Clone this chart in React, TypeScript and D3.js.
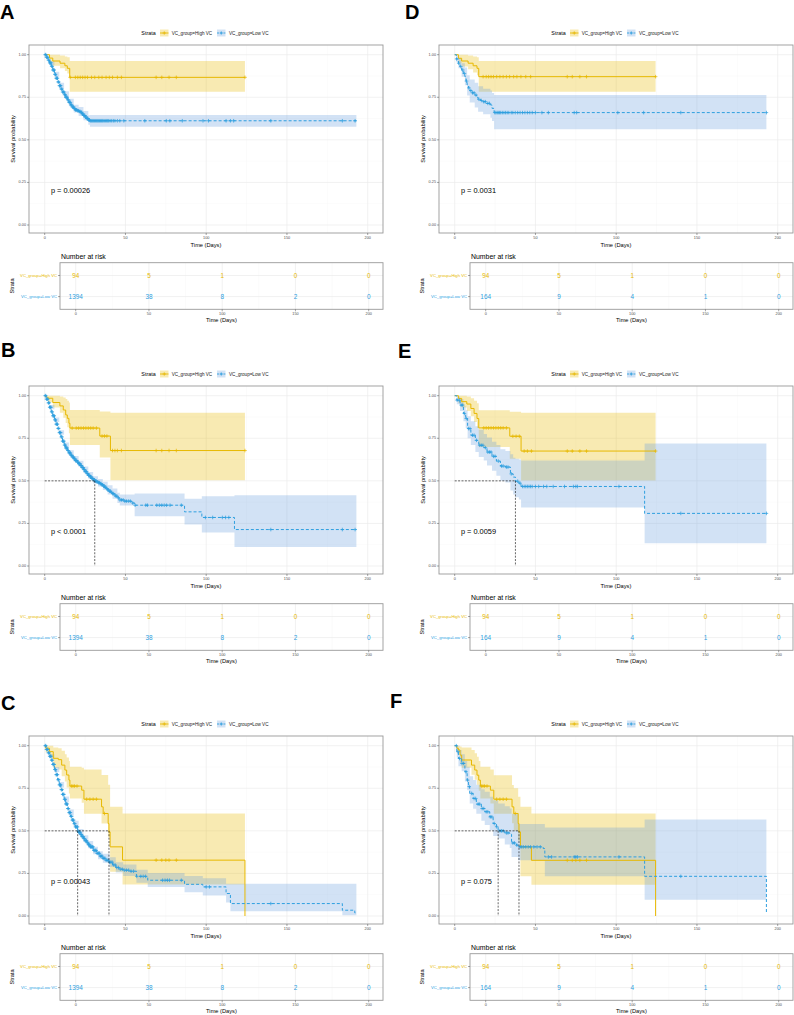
import React from "react";
import * as d3 from "d3";

type Step = [number, number];
type Band = [number, number, number];

const FONT = "'Liberation Sans', Arial, Helvetica, sans-serif";
const HIGH_COL = "#E7B800";
const LOW_COL = "#2E9FDF";
const HIGH_FILL = "#E7B800";
const LOW_FILL = "#6A9FDD";

const strata = ["VC_group=High VC", "VC_group=Low VC"];
const timeBreaks = [0, 50, 100, 150, 200];
const timeMinor = [25, 75, 125, 175];
const survBreaks = [0, 0.25, 0.5, 0.75, 1];
const survMinor = [0.125, 0.375, 0.625, 0.875];

// number at risk, same time breaks as the axis
const riskHigh = [94, 5, 1, 0, 0];
const riskLowLeft = [1394, 38, 8, 2, 0];
const riskLowRight = [164, 9, 4, 1, 0];

const pValues = ["p = 0.00026", "p < 0.0001", "p = 0.00043", "p = 0.0031", "p = 0.0059", "p = 0.075"];

// ---- A ----
const aHigh: Step[] = [[0, 1], [3, 0.98], [5, 0.963], [9.5, 0.95], [12.5, 0.935], [14, 0.92], [15.5, 0.867], [124, 0.867]];
const aHighBand: Band[] = [[0, 1, 1], [3, 0.955, 1], [5, 0.935, 1], [9.5, 0.92, 0.995], [12.5, 0.905, 0.99], [14, 0.89, 0.985], [15.5, 0.783, 0.963], [124, 0.783, 0.963]];
const aHighCensor = [15.8, 19, 20.5, 22, 23.5, 25, 26.5, 29, 31, 33.5, 35.5, 38, 40, 42, 45, 47.5, 69, 72.5, 77, 81.5, 124];
const aLow: Step[] = [[0, 1], [1, 0.985], [2, 0.968], [3, 0.952], [4, 0.932], [5, 0.91], [6, 0.885], [7, 0.862], [8, 0.84], [9, 0.818], [10, 0.798], [11, 0.781], [12, 0.765], [13, 0.75], [14, 0.735], [15, 0.72], [16, 0.705], [17, 0.693], [18, 0.683], [19, 0.676], [20, 0.671], [21, 0.667], [22, 0.662], [23, 0.652], [24, 0.643], [25, 0.634], [26, 0.625], [27, 0.616], [28, 0.612], [193, 0.612]];
const aLowBand: Band[] = [[0, 1, 1], [3, 0.94, 0.962], [6, 0.87, 0.9], [9, 0.8, 0.836], [12, 0.745, 0.785], [15, 0.698, 0.742], [18, 0.66, 0.706], [21, 0.64, 0.693], [24, 0.615, 0.67], [27, 0.588, 0.645], [28, 0.577, 0.646], [193, 0.577, 0.646]];
const aLowCensor = [0.3, 0.7, 1.1, 1.5, 1.9, 2.3, 2.7, 3.1, 3.5, 3.9, 4.3, 4.7, 5.1, 5.5, 5.9, 6.3, 6.7, 7.1, 7.5, 7.9, 8.3, 8.7, 9.1, 9.5, 9.9, 10.3, 10.7, 11.1, 11.5, 11.9, 12.3, 12.7, 13.1, 13.5, 13.9, 14.3, 14.7, 15.1, 15.5, 15.9, 16.3, 16.7, 17.1, 17.5, 17.9, 18.3, 18.7, 19.1, 19.5, 19.9, 20.4, 20.9, 21.4, 21.9, 22.4, 22.9, 23.3, 23.7, 24.1, 24.5, 24.9, 25.3, 25.7, 26.1, 26.5, 26.9, 27.3, 27.7, 28.2, 28.8, 29.4, 30, 30.6, 31.2, 31.8, 32.4, 33, 33.6, 34.2, 34.8, 35.4, 36, 36.7, 37.4, 38.1, 38.8, 39.6, 40.5, 41.5, 42.5, 43.5, 45, 46.5, 49, 62, 75.3, 77.5, 85.2, 98, 101.4, 112.3, 115, 117, 140, 184.3, 192.2];

// ---- B ----
const bHigh: Step[] = [[0, 1], [0.6, 0.992], [2, 0.985], [5, 0.96], [9.4, 0.94], [11.5, 0.916], [13, 0.887], [14, 0.867], [15, 0.838], [15.6, 0.81], [34.1, 0.763], [40.7, 0.678], [124, 0.678]];
const bHighBand: Band[] = [[0, 1, 1], [2, 0.96, 1], [5, 0.93, 1], [9.4, 0.9, 0.995], [11.5, 0.87, 0.99], [13, 0.84, 0.98], [14, 0.815, 0.97], [15, 0.78, 0.96], [15.6, 0.71, 0.916], [34.1, 0.637, 0.907], [40.7, 0.504, 0.9], [124, 0.504, 0.9]];
const bHighCensor = [17, 19.5, 21, 22.5, 24, 25.5, 27, 28.5, 30, 32, 35.5, 37, 38.5, 42, 43.5, 45, 47.5, 69, 72.5, 77, 81.5, 124];
const bLow: Step[] = [[0, 1], [1, 0.98], [2, 0.958], [3, 0.932], [4, 0.905], [5, 0.882], [6, 0.858], [7, 0.833], [8, 0.808], [9, 0.783], [10, 0.758], [11, 0.733], [12, 0.71], [13, 0.693], [14, 0.678], [15, 0.664], [16, 0.651], [17, 0.64], [18, 0.629], [19, 0.619], [20, 0.61], [21, 0.6], [22, 0.59], [23, 0.578], [24, 0.566], [25, 0.554], [26, 0.542], [27, 0.532], [28, 0.523], [29, 0.514], [30, 0.506], [31, 0.499], [32, 0.494], [33, 0.489], [34, 0.484], [35, 0.477], [36, 0.47], [37, 0.462], [38, 0.455], [39, 0.447], [40, 0.439], [41, 0.432], [42, 0.425], [43, 0.418], [44, 0.41], [45, 0.4], [46.5, 0.388], [49.5, 0.381], [53.7, 0.37], [55.7, 0.357], [86.6, 0.318], [97.3, 0.285], [117.5, 0.214], [193, 0.214]];
const bLowBand: Band[] = [[0, 1, 1], [3, 0.92, 0.945], [6, 0.845, 0.872], [9, 0.77, 0.797], [12, 0.696, 0.725], [15, 0.648, 0.68], [18, 0.612, 0.646], [21, 0.582, 0.618], [24, 0.547, 0.585], [27, 0.512, 0.552], [30, 0.485, 0.527], [33, 0.467, 0.511], [36, 0.446, 0.494], [39, 0.42, 0.474], [42, 0.395, 0.455], [45, 0.37, 0.43], [46.5, 0.355, 0.42], [55.7, 0.292, 0.426], [86.6, 0.243, 0.395], [97.3, 0.196, 0.41], [117.5, 0.112, 0.416], [193, 0.112, 0.416]];
const bLowCensor = [0.3, 0.7, 1.1, 1.5, 1.9, 2.3, 2.7, 3.1, 3.5, 3.9, 4.3, 4.7, 5.1, 5.5, 5.9, 6.3, 6.7, 7.1, 7.5, 7.9, 8.3, 8.7, 9.1, 9.5, 9.9, 10.3, 10.7, 11.1, 11.5, 11.9, 12.3, 12.7, 13.1, 13.5, 13.9, 14.3, 14.7, 15.1, 15.5, 15.9, 16.3, 16.7, 17.1, 17.5, 17.9, 18.3, 18.7, 19.1, 19.5, 19.9, 20.3, 20.7, 21.1, 21.5, 21.9, 22.3, 22.7, 23.1, 23.5, 23.9, 24.3, 24.7, 25.1, 25.5, 25.9, 26.3, 26.7, 27.1, 27.5, 27.9, 28.3, 28.7, 29.1, 29.5, 29.9, 30.4, 30.9, 31.4, 31.9, 32.4, 32.9, 33.4, 33.9, 34.4, 34.9, 35.4, 35.9, 36.4, 36.9, 37.4, 37.9, 38.4, 39, 39.6, 40.2, 40.8, 41.4, 42, 42.7, 43.4, 44.1, 44.8, 45.6, 46.6, 47.6, 48.6, 49.6, 50.6, 51.8, 53, 54.5, 56, 62.6, 63.7, 69.4, 71, 72.5, 74, 75.5, 77.6, 84.6, 99.5, 104, 110, 112, 114, 140, 184.3, 192.2];

// ---- C ----
const cHigh: Step[] = [[0, 1], [0.6, 0.985], [3, 0.965], [5.3, 0.926], [8.4, 0.918], [10.5, 0.886], [12.5, 0.857], [13.6, 0.828], [15, 0.798], [15.6, 0.763], [22.9, 0.739], [24.3, 0.686], [35.2, 0.641], [36.2, 0.602], [39.3, 0.543], [39.8, 0.494], [40.5, 0.406], [48.2, 0.328], [124, 0]];
const cHighBand: Band[] = [[0, 1, 1], [0.6, 0.96, 1], [3, 0.93, 1], [5.3, 0.87, 0.99], [8.4, 0.86, 0.985], [10.5, 0.82, 0.97], [12.5, 0.79, 0.95], [13.6, 0.755, 0.93], [15, 0.72, 0.91], [15.6, 0.69, 0.876], [22.9, 0.665, 0.87], [24.3, 0.6, 0.86], [35.2, 0.543, 0.828], [39.3, 0.465, 0.77], [40.5, 0.26, 0.641], [48.2, 0.185, 0.602], [124, 0.185, 0.602]];
const cHighCensor = [16.5, 17.5, 18.5, 20, 26, 28, 30, 32, 37, 69, 72.5, 75, 77, 81.5];
const cLow: Step[] = [[0, 1], [1, 0.978], [2, 0.958], [3, 0.938], [4, 0.915], [5, 0.89], [6, 0.86], [7, 0.83], [8, 0.8], [9, 0.77], [10, 0.742], [11, 0.714], [12, 0.685], [13, 0.658], [14, 0.631], [15, 0.607], [16, 0.585], [17, 0.563], [18, 0.542], [19, 0.523], [20.4, 0.499], [21, 0.492], [22, 0.479], [23, 0.466], [24, 0.454], [25, 0.442], [26, 0.43], [27, 0.418], [28, 0.406], [30, 0.385], [32, 0.368], [34, 0.352], [36, 0.339], [38, 0.327], [40, 0.316], [42, 0.3], [44, 0.285], [46, 0.275], [48.6, 0.269], [52.7, 0.263], [56.8, 0.233], [62.9, 0.226], [63.8, 0.21], [86.6, 0.186], [97.9, 0.171], [112.3, 0.132], [115, 0.073], [184.3, 0.034], [192, 0.018], [193, 0.018]];
const cLowBand: Band[] = [[0, 1, 1], [3, 0.925, 0.95], [6, 0.845, 0.875], [9, 0.755, 0.787], [12, 0.668, 0.702], [15, 0.59, 0.625], [18, 0.524, 0.56], [21, 0.473, 0.511], [24, 0.434, 0.474], [27, 0.398, 0.44], [30, 0.363, 0.407], [33, 0.333, 0.38], [36, 0.313, 0.365], [40, 0.288, 0.345], [44, 0.255, 0.315], [48.6, 0.235, 0.303], [56.8, 0.195, 0.272], [63.8, 0.17, 0.252], [86.6, 0.14, 0.235], [97.9, 0.12, 0.222], [112.3, 0.08, 0.19], [115, 0.028, 0.19], [184.3, 0.005, 0.19], [193, 0.005, 0.19]];
const cLowCensor = [0.3, 0.7, 1.1, 1.5, 1.9, 2.3, 2.7, 3.1, 3.5, 3.9, 4.3, 4.7, 5.1, 5.5, 5.9, 6.3, 6.7, 7.1, 7.5, 7.9, 8.3, 8.7, 9.1, 9.5, 9.9, 10.3, 10.7, 11.1, 11.5, 11.9, 12.3, 12.7, 13.1, 13.5, 13.9, 14.3, 14.7, 15.1, 15.5, 15.9, 16.3, 16.7, 17.1, 17.5, 17.9, 18.3, 18.7, 19.1, 19.5, 19.9, 20.3, 20.7, 21.1, 21.5, 21.9, 22.3, 22.7, 23.1, 23.5, 23.9, 24.3, 24.7, 25.1, 25.5, 25.9, 26.3, 26.7, 27.1, 27.5, 27.9, 28.3, 28.7, 29.1, 29.5, 29.9, 30.4, 30.9, 31.4, 31.9, 32.4, 32.9, 33.4, 33.9, 34.4, 34.9, 35.5, 36.1, 36.7, 37.3, 38, 38.7, 39.4, 40.2, 41, 41.8, 42.7, 43.6, 44.6, 45.6, 46.8, 48, 49.3, 50.6, 52, 53.5, 55, 57, 59.5, 61, 62.5, 73, 74.5, 76, 77.3, 84.6, 100, 102, 140];

// ---- D ----
const dHigh: Step[] = [[0, 1], [2.3, 0.979], [4.3, 0.963], [8.3, 0.95], [11.4, 0.935], [13.8, 0.92], [14.9, 0.871], [124.4, 0.871]];
const dHighBand: Band[] = [[0, 1, 1], [2.3, 0.95, 1], [4.3, 0.93, 1], [8.3, 0.915, 0.995], [11.4, 0.895, 0.99], [13.8, 0.88, 0.985], [14.9, 0.783, 0.963], [124.4, 0.783, 0.963]];
const dHighCensor = [17.6, 19.5, 21, 22.5, 24, 26, 28, 30, 32, 34, 36.5, 38.5, 41, 44, 47, 69.7, 72.8, 77.5, 81.6, 124.4];
const dLow: Step[] = [[0, 1], [1, 0.975], [2.3, 0.95], [3.3, 0.93], [4.3, 0.91], [5.3, 0.89], [6.3, 0.871], [7, 0.845], [7.7, 0.822], [8.5, 0.805], [9.3, 0.789], [10.8, 0.776], [12.4, 0.763], [13.5, 0.75], [14.5, 0.738], [16, 0.731], [17.6, 0.724], [19.6, 0.714], [22.1, 0.705], [23.1, 0.685], [24.4, 0.66], [193, 0.66]];
const dLowBand: Band[] = [[0, 1, 1], [1, 0.955, 0.995], [2.3, 0.92, 0.98], [4.3, 0.87, 0.95], [6.3, 0.82, 0.925], [7.7, 0.76, 0.88], [9.3, 0.72, 0.855], [12.4, 0.69, 0.835], [14.5, 0.665, 0.815], [17.6, 0.65, 0.8], [22.1, 0.63, 0.79], [23.1, 0.61, 0.775], [24.4, 0.562, 0.763], [193, 0.562, 0.763]];
const dLowCensor = [1.2, 2.5, 3.8, 5, 6, 7.3, 8.8, 10, 11, 12, 13.2, 15, 16.5, 18, 19, 20.5, 21.5, 24.8, 25.5, 26.3, 27, 27.8, 28.5, 29.5, 30.5, 31.5, 32.5, 33.5, 35, 36, 37.5, 39, 40.5, 42, 43.5, 45, 46.5, 48, 50, 54, 58, 74, 75.5, 101, 117, 140, 193];

// ---- E ----
const eHigh: Step[] = [[0, 1], [2.3, 0.984], [4.3, 0.965], [7.5, 0.951], [10, 0.925], [12, 0.896], [13.8, 0.866], [14.9, 0.811], [34.1, 0.762], [41.1, 0.675], [124.4, 0.675]];
const eHighBand: Band[] = [[0, 1, 1], [2.3, 0.955, 1], [4.3, 0.93, 1], [7.5, 0.91, 0.995], [10, 0.88, 0.985], [12, 0.845, 0.97], [13.8, 0.81, 0.955], [14.9, 0.699, 0.915], [34.1, 0.63, 0.906], [41.1, 0.502, 0.9], [124.4, 0.502, 0.9]];
const eHighCensor = [18, 19.5, 21, 22.5, 24, 25.5, 27, 28.5, 30, 32, 36, 38, 40, 43, 45, 47.5, 69.7, 72.8, 77.5, 81.6, 124.4];
const eLow: Step[] = [[0, 1], [1.3, 0.974], [3.3, 0.945], [5.4, 0.896], [6.8, 0.866], [8, 0.807], [10, 0.768], [12.8, 0.738], [14.9, 0.709], [18, 0.695], [20, 0.669], [23.1, 0.644], [25.8, 0.616], [28.3, 0.587], [31.4, 0.581], [34.5, 0.541], [36.2, 0.522], [37.6, 0.498], [39.7, 0.486], [41.1, 0.467], [117.6, 0.309], [193, 0.309]];
const eLowBand: Band[] = [[0, 1, 1], [1.3, 0.95, 0.995], [3.3, 0.91, 0.98], [5.4, 0.85, 0.94], [6.8, 0.81, 0.915], [8, 0.75, 0.88], [10, 0.71, 0.85], [12.8, 0.67, 0.82], [14.9, 0.64, 0.8], [18, 0.62, 0.775], [20, 0.59, 0.755], [23.1, 0.56, 0.73], [25.8, 0.53, 0.71], [28.3, 0.5, 0.685], [31.4, 0.49, 0.675], [34.5, 0.443, 0.656], [36.2, 0.42, 0.635], [37.6, 0.404, 0.63], [39.7, 0.39, 0.625], [41.1, 0.344, 0.62], [117.6, 0.134, 0.719], [193, 0.134, 0.719]];
const eLowCensor = [1.5, 2.8, 4, 5, 6, 7.2, 8.6, 9.5, 11, 12, 13.5, 15.5, 16.5, 17.5, 19, 20.5, 21.5, 22.5, 24, 25, 27, 29, 30, 32, 33, 35, 39, 40.5, 42, 43, 44, 45, 46, 47, 48, 50, 52, 55, 57, 61, 68, 73.5, 75, 76, 101.7, 140, 193];

// ---- F ----
const fHigh: Step[] = [[0, 1], [1.3, 0.985], [2.3, 0.975], [3.3, 0.945], [4.3, 0.916], [10.4, 0.886], [12.4, 0.857], [13.8, 0.827], [14.9, 0.798], [15.9, 0.763], [22.1, 0.739], [24.2, 0.686], [35.5, 0.641], [36.6, 0.602], [39.3, 0.543], [39.8, 0.494], [40.7, 0.406], [47.5, 0.327], [124.4, 0]];
const fHighBand: Band[] = [[0, 1, 1], [1.3, 0.96, 1], [3.3, 0.9, 0.995], [4.3, 0.87, 0.99], [10.4, 0.83, 0.975], [12.4, 0.8, 0.955], [13.8, 0.77, 0.935], [14.9, 0.735, 0.91], [15.9, 0.69, 0.876], [22.1, 0.66, 0.86], [24.2, 0.6, 0.827], [35.5, 0.545, 0.769], [36.6, 0.5, 0.75], [39.3, 0.44, 0.7], [40.7, 0.233, 0.641], [47.5, 0.184, 0.602], [124.4, 0.184, 0.602]];
const fHighCensor = [16.5, 17.5, 18.5, 20, 26, 28, 30, 32, 37.5, 69.7, 72.8, 75, 77.5, 81.6];
const fLow: Step[] = [[0, 1], [1.3, 0.965], [2.3, 0.925], [4.3, 0.896], [6.3, 0.847], [7.7, 0.798], [8.5, 0.76], [9.3, 0.72], [11.4, 0.69], [13.4, 0.657], [16.5, 0.631], [18.6, 0.612], [21.7, 0.582], [23.8, 0.543], [25.8, 0.524], [26.9, 0.5], [31, 0.488], [34.1, 0.48], [35.2, 0.429], [38.3, 0.416], [39.3, 0.406], [54.8, 0.396], [55.8, 0.347], [117.6, 0.233], [193, 0.014]];
const fLowBand: Band[] = [[0, 1, 1], [1.3, 0.93, 0.995], [2.3, 0.88, 0.975], [4.3, 0.85, 0.95], [6.3, 0.79, 0.91], [7.7, 0.739, 0.876], [9.3, 0.66, 0.82], [11.4, 0.63, 0.798], [13.4, 0.6, 0.77], [16.5, 0.56, 0.745], [18.6, 0.535, 0.729], [21.7, 0.504, 0.7], [23.8, 0.47, 0.68], [26.9, 0.455, 0.66], [31, 0.42, 0.645], [34.1, 0.4, 0.631], [35.2, 0.347, 0.6], [39.3, 0.327, 0.54], [55.8, 0.233, 0.52], [117.6, 0.096, 0.567], [193, 0.096, 0.567]];
const fLowCensor = [1, 2, 3, 4.5, 5.5, 7, 8, 9, 10.5, 12, 13, 14.5, 15.5, 17, 18, 19.5, 20.5, 22, 23, 24.5, 26, 28, 29, 30, 32, 33, 36, 37, 38.5, 40.5, 41.5, 42.5, 44, 45.5, 47, 49, 51, 53, 58, 60, 74, 75, 76, 101.7, 140];

// median survival times marked by dashed guides
const aMedians: number[] = [];
const bMedians = [31];
const cMedians = [20.4, 39.8];
const dMedians: number[] = [];
const eMedians = [37.6];
const fMedians = [26.9, 39.8];

interface PanelCfg {
  letter: string;
  letterX: number;
  letterY: number;
  ox: number;
  oy: number;
  pText: string;
  high: Step[];
  highBand: Band[];
  highCensor: number[];
  low: Step[];
  lowBand: Band[];
  lowCensor: number[];
  medians: number[];
  riskLow: number[];
}

const colX = [0, 410];
const rowY = [0, 341, 691];

const panels: PanelCfg[] = [
  { letter: "A", letterX: 0, letterY: 18.5, ox: colX[0], oy: rowY[0], pText: pValues[0], high: aHigh, highBand: aHighBand, highCensor: aHighCensor, low: aLow, lowBand: aLowBand, lowCensor: aLowCensor, medians: aMedians, riskLow: riskLowLeft },
  { letter: "B", letterX: 1, letterY: 15.8, ox: colX[0], oy: rowY[1], pText: pValues[1], high: bHigh, highBand: bHighBand, highCensor: bHighCensor, low: bLow, lowBand: bLowBand, lowCensor: bLowCensor, medians: bMedians, riskLow: riskLowLeft },
  { letter: "C", letterX: 1, letterY: 18.5, ox: colX[0], oy: rowY[2], pText: pValues[2], high: cHigh, highBand: cHighBand, highCensor: cHighCensor, low: cLow, lowBand: cLowBand, lowCensor: cLowCensor, medians: cMedians, riskLow: riskLowLeft },
  { letter: "D", letterX: -5, letterY: 18.5, ox: colX[1], oy: rowY[0], pText: pValues[3], high: dHigh, highBand: dHighBand, highCensor: dHighCensor, low: dLow, lowBand: dLowBand, lowCensor: dLowCensor, medians: dMedians, riskLow: riskLowRight },
  { letter: "E", letterX: -12, letterY: 17, ox: colX[1], oy: rowY[1], pText: pValues[4], high: eHigh, highBand: eHighBand, highCensor: eHighCensor, low: eLow, lowBand: eLowBand, lowCensor: eLowCensor, medians: eMedians, riskLow: riskLowRight },
  { letter: "F", letterX: -20, letterY: 17, ox: colX[1], oy: rowY[2], pText: pValues[5], high: fHigh, highBand: fHighBand, highCensor: fHighCensor, low: fLow, lowBand: fLowBand, lowCensor: fLowCensor, medians: fMedians, riskLow: riskLowRight },
];

// survival value of a step curve at time t
const survAt = (steps: Step[], t: number) => {
  let s = 1;
  for (const [ti, si] of steps) {
    if (ti <= t) s = si;
    else break;
  }
  return s;
};

const crossPath = (pts: [number, number][], r: number) =>
  pts.map(([cx, cy]) => `M${cx - r},${cy}h${2 * r}M${cx},${cy - r}v${2 * r}`).join("");

function LegendKey({ x, y, color, fill, dashed }: { x: number; y: number; color: string; fill: string; dashed: boolean }) {
  return (
    <g>
      <rect x={x} y={y - 3.5} width={8.5} height={7} fill={fill} fillOpacity={0.3} />
      <line x1={x} x2={x + 8.5} y1={y} y2={y} stroke={color} strokeWidth={0.9} strokeDasharray={dashed ? "2 1.2" : undefined} />
      <path d={crossPath([[x + 4.25, y]], 1.7)} stroke={color} strokeWidth={0.7} />
    </g>
  );
}

function Panel({ c }: { c: PanelCfg }) {
  const plot = { x0: 29, x1: 383, y0: 45, y1: 233 };
  const risk = { x0: 60, x1: 383, y0: 262.7, y1: 309.3 };
  const x = d3.scaleLinear().domain([0, 200]).range([44.7, 367.7]);
  const y = d3.scaleLinear().domain([0, 1]).range([225, 54.7]);
  const xr = d3.scaleLinear().domain([0, 200]).range([75.7, 368.7]);
  const yr = d3.scalePoint<string>().domain(strata).range([275.5, 296.6]);

  const line = d3.line<Step>().x((d) => x(d[0])).y((d) => y(d[1])).curve(d3.curveStepAfter);
  const area = d3
    .area<Band>()
    .x((d) => x(d[0]))
    .y0((d) => y(d[1]))
    .y1((d) => y(d[2]))
    .curve(d3.curveStepAfter);

  const marks = (steps: Step[], times: number[]) =>
    crossPath(times.map((t) => [x(t), y(survAt(steps, t))] as [number, number]), 1.8);

  const tickCol = "#4D4D4D";
  const gridMajor = "#EBEBEB";
  const gridMinor = "#F4F4F4";
  const border = "#999999";
  const medMax = c.medians.length ? d3.max(c.medians)! : 0;
  const plotMidX = (plot.x0 + plot.x1) / 2;

  return (
    <g transform={`translate(${c.ox},${c.oy})`} fontFamily={FONT}>
      <text x={c.letterX} y={c.letterY} fontSize={20} fontWeight="bold" fill="#000">
        {c.letter}
      </text>

      {/* legend */}
      <g fontSize={4.6} fill="#222">
        <text x={141.3} y={33} fontSize={5.4} dominantBaseline="central" fill="#000">
          Strata
        </text>
        <LegendKey x={160} y={33} color={HIGH_COL} fill={HIGH_FILL} dashed={false} />
        <text x={171.7} y={33} dominantBaseline="central">
          {strata[0]}
        </text>
        <LegendKey x={217} y={33} color={LOW_COL} fill={LOW_FILL} dashed={true} />
        <text x={229} y={33} dominantBaseline="central">
          {strata[1]}
        </text>
      </g>

      {/* survival plot */}
      <rect x={plot.x0} y={plot.y0} width={plot.x1 - plot.x0} height={plot.y1 - plot.y0} fill="#fff" />
      {timeMinor.map((t) => (
        <line key={"xm" + t} x1={x(t)} x2={x(t)} y1={plot.y0} y2={plot.y1} stroke={gridMinor} strokeWidth={0.4} />
      ))}
      {survMinor.map((s) => (
        <line key={"ym" + s} x1={plot.x0} x2={plot.x1} y1={y(s)} y2={y(s)} stroke={gridMinor} strokeWidth={0.4} />
      ))}
      {timeBreaks.map((t) => (
        <line key={"xg" + t} x1={x(t)} x2={x(t)} y1={plot.y0} y2={plot.y1} stroke={gridMajor} strokeWidth={0.7} />
      ))}
      {survBreaks.map((s) => (
        <line key={"yg" + s} x1={plot.x0} x2={plot.x1} y1={y(s)} y2={y(s)} stroke={gridMajor} strokeWidth={0.7} />
      ))}

      <path d={area(c.highBand) ?? ""} fill={HIGH_FILL} fillOpacity={0.3} />
      <path d={area(c.lowBand) ?? ""} fill={LOW_FILL} fillOpacity={0.3} />

      <path d={line(c.high) ?? ""} fill="none" stroke={HIGH_COL} strokeWidth={1} />
      <path d={line(c.low) ?? ""} fill="none" stroke={LOW_COL} strokeWidth={1} strokeDasharray="3 2" />
      <path d={marks(c.high, c.highCensor)} stroke={HIGH_COL} strokeWidth={0.75} fill="none" />
      <path d={marks(c.low, c.lowCensor)} stroke={LOW_COL} strokeWidth={0.75} fill="none" />

      {c.medians.length > 0 && (
        <g stroke="#000" strokeWidth={0.6} strokeDasharray="2 1.4" fill="none">
          <line x1={x(0)} x2={x(medMax)} y1={y(0.5)} y2={y(0.5)} />
          {c.medians.map((m) => (
            <line key={"md" + m} x1={x(m)} x2={x(m)} y1={y(0.5)} y2={y(0)} />
          ))}
        </g>
      )}

      <text x={x(193 / 50)} y={y(0.2)} fontSize={7.4} dominantBaseline="central" fill="#000">
        {c.pText}
      </text>

      <rect x={plot.x0} y={plot.y0} width={plot.x1 - plot.x0} height={plot.y1 - plot.y0} fill="none" stroke={border} strokeWidth={0.9} />

      {survBreaks.map((s) => (
        <g key={"yt" + s}>
          <line x1={plot.x0 - 2} x2={plot.x0} y1={y(s)} y2={y(s)} stroke={tickCol} strokeWidth={0.5} />
          <text x={plot.x0 - 3} y={y(s)} fontSize={3.8} textAnchor="end" dominantBaseline="central" fill={tickCol}>
            {s.toFixed(2)}
          </text>
        </g>
      ))}
      {timeBreaks.map((t) => (
        <g key={"xt" + t}>
          <line x1={x(t)} x2={x(t)} y1={plot.y1} y2={plot.y1 + 2} stroke={tickCol} strokeWidth={0.5} />
          <text x={x(t)} y={plot.y1 + 5.3} fontSize={3.8} textAnchor="middle" dominantBaseline="central" fill={tickCol}>
            {t}
          </text>
        </g>
      ))}
      <text x={plotMidX} y={244.7} fontSize={5.7} textAnchor="middle" dominantBaseline="central" fill="#000">
        Time (Days)
      </text>
      <text
        transform={`translate(13,${(plot.y0 + plot.y1) / 2}) rotate(-90)`}
        fontSize={5.7}
        textAnchor="middle"
        dominantBaseline="central"
        fill="#000"
      >
        Survival probability
      </text>

      {/* number at risk table */}
      <text x={61} y={256} fontSize={6.9} dominantBaseline="central" fill="#000">
        Number at risk
      </text>
      <rect x={risk.x0} y={risk.y0} width={risk.x1 - risk.x0} height={risk.y1 - risk.y0} fill="#fff" />
      {timeMinor.map((t) => (
        <line key={"rxm" + t} x1={xr(t)} x2={xr(t)} y1={risk.y0} y2={risk.y1} stroke={gridMinor} strokeWidth={0.4} />
      ))}
      {timeBreaks.map((t) => (
        <line key={"rxg" + t} x1={xr(t)} x2={xr(t)} y1={risk.y0} y2={risk.y1} stroke={gridMajor} strokeWidth={0.7} />
      ))}
      {strata.map((s) => (
        <line key={"ryg" + s} x1={risk.x0} x2={risk.x1} y1={yr(s)!} y2={yr(s)!} stroke={gridMajor} strokeWidth={0.7} />
      ))}
      {[riskHigh, c.riskLow].map((row, i) =>
        row.map((n, j) => (
          <text
            key={`rn${i}-${j}`}
            x={xr(timeBreaks[j])}
            y={yr(strata[i])!}
            fontSize={6.4}
            textAnchor="middle"
            dominantBaseline="central"
            fill={i === 0 ? HIGH_COL : LOW_COL}
          >
            {n}
          </text>
        ))
      )}
      <rect x={risk.x0} y={risk.y0} width={risk.x1 - risk.x0} height={risk.y1 - risk.y0} fill="none" stroke={border} strokeWidth={0.9} />
      {strata.map((s, i) => (
        <g key={"rl" + s}>
          <line x1={risk.x0 - 2} x2={risk.x0} y1={yr(s)!} y2={yr(s)!} stroke={tickCol} strokeWidth={0.5} />
          <text x={risk.x0 - 3} y={yr(s)!} fontSize={4.2} textAnchor="end" dominantBaseline="central" fill={i === 0 ? HIGH_COL : LOW_COL}>
            {s}
          </text>
        </g>
      ))}
      {timeBreaks.map((t) => (
        <g key={"rxt" + t}>
          <line x1={xr(t)} x2={xr(t)} y1={risk.y1} y2={risk.y1 + 2} stroke={tickCol} strokeWidth={0.5} />
          <text x={xr(t)} y={314} fontSize={3.8} textAnchor="middle" dominantBaseline="central" fill={tickCol}>
            {t}
          </text>
        </g>
      ))}
      <text x={(risk.x0 + risk.x1) / 2} y={320.3} fontSize={5.7} textAnchor="middle" dominantBaseline="central" fill="#000">
        Time (Days)
      </text>
      <text
        transform={`translate(12,${(risk.y0 + risk.y1) / 2}) rotate(-90)`}
        fontSize={5.7}
        textAnchor="middle"
        dominantBaseline="central"
        fill="#000"
      >
        Strata
      </text>
    </g>
  );
}

export default function App() {
  return (
    <svg
      width={794}
      height={1015}
      viewBox="0 0 794 1015"
      style={{ position: "absolute", left: 0, top: 0, background: "#fff" }}
    >
      <rect width={794} height={1015} fill="#fff" />
      {panels.map((p) => (
        <Panel key={p.letter} c={p} />
      ))}
    </svg>
  );
}
